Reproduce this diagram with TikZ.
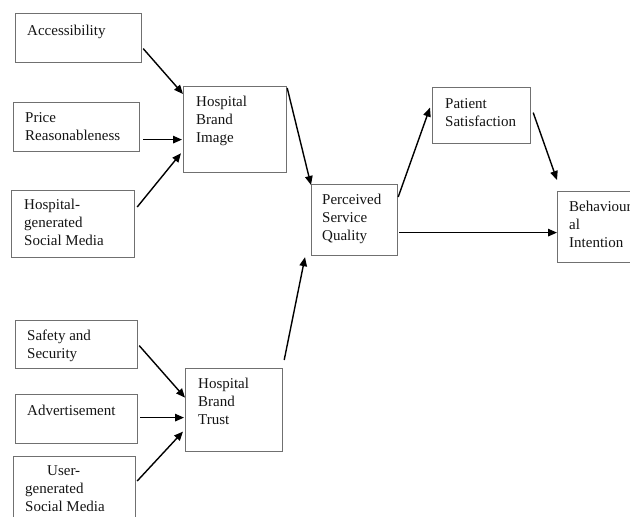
\documentclass[tikz,border=0pt]{standalone}
\usepackage{fontspec}
\setmainfont{Liberation Serif}
\usetikzlibrary{arrows.meta}
\definecolor{boxgray}{HTML}{707070}
\definecolor{txt}{HTML}{141414}
\tikzset{
  box/.style={draw=boxgray, line width=1.2pt, inner sep=0pt, anchor=north west},
  lbl/.style={anchor=north west, inner sep=0pt, align=left, text=txt,
              font=\fontsize{15}{18}\selectfont},
  arr/.style={line width=1.4pt, black, -{Triangle[length=9pt,width=7.5pt]}}
}
\begin{document}
\begin{tikzpicture}[x=1pt, y=-1pt]
\useasboundingbox (0,0) rectangle (630,517);
% boxes
\node[box, minimum width=126pt, minimum height=49pt] (acc)   at (15,13)  {};
\node[box, minimum width=126pt, minimum height=49pt] (price) at (13,102) {};
\node[box, minimum width=123pt, minimum height=67pt] (hgsm)  at (11,190) {};
\node[box, minimum width=103pt, minimum height=86pt] (hbi)   at (183,86) {};
\node[box, minimum width=86pt,  minimum height=71pt] (psq)   at (311,184) {};
\node[box, minimum width=98pt,  minimum height=56pt] (ps)    at (432,87) {};
\node[box, minimum width=93pt,  minimum height=71pt] (bi)    at (557,191) {};
\node[box, minimum width=122pt, minimum height=48pt] (safe)  at (15,320) {};
\node[box, minimum width=122pt, minimum height=49pt] (adv)   at (15,394) {};
\node[box, minimum width=122pt, minimum height=84pt] (ugsm)  at (13,456) {};
\node[box, minimum width=97pt,  minimum height=83pt] (hbt)   at (185,368) {};
% labels
\node[lbl] (accT)   at ([xshift=12pt,yshift=-12pt]acc.north west)   {Accessibility};
\node[lbl] (priceT) at ([xshift=12pt,yshift=-10pt]price.north west) {Price\\Reasonableness};
\node[lbl] (hgsmT)  at ([xshift=13pt,yshift=-9pt]hgsm.north west)   {Hospital-\\generated\\Social Media};
\node[lbl] (hbiT)   at ([xshift=13pt,yshift=-10pt]hbi.north west)   {Hospital\\Brand\\Image};
\node[lbl] (psqT)   at ([xshift=11pt,yshift=-10pt]psq.north west)   {Perceived\\Service\\Quality};
\node[lbl] (psT)    at ([xshift=13pt,yshift=-11pt]ps.north west)    {Patient\\Satisfaction};
\node[lbl] (biT)    at ([xshift=12pt,yshift=-10pt]bi.north west)    {Behaviour\\al\\Intention};
\node[lbl] (safeT)  at ([xshift=12pt,yshift=-10pt]safe.north west)  {Safety and\\Security};
\node[lbl] (advT)   at ([xshift=12pt,yshift=-11pt]adv.north west)   {Advertisement};
\node[lbl] (ugsmT)  at ([xshift=12pt,yshift=-9pt]ugsm.north west)   {\hspace*{22pt}User-\\generated\\Social Media};
\node[lbl] (hbtT)   at ([xshift=13pt,yshift=-10pt]hbt.north west)   {Hospital\\Brand\\Trust};
% arrows
\draw[arr] ([xshift=1pt,yshift=-10.5pt]acc.east) -- ([yshift=-8pt]hbi.north west);
\draw[arr] ([xshift=3pt,yshift=-12.5pt]price.east) -- ([xshift=-1pt,yshift=-10pt]hbi.west);
\draw[arr] ([xshift=2pt,yshift=-17pt]hgsm.north east) -- ([xshift=-2pt,yshift=20pt]hbi.south west);
\draw[arr] ([yshift=-2pt]hbi.north east) -- ([xshift=0pt,yshift=-1pt]psq.north west);
\draw[arr] ([xshift=1pt,yshift=8pt]hbt.north east) -- ([xshift=-6pt,yshift=-1pt]psq.south west);
\draw[arr] ([xshift=1pt,yshift=-1pt]safe.east) -- ([yshift=12.5pt]hbt.west);
\draw[arr] ([xshift=2pt,yshift=1.5pt]adv.east) -- ([xshift=-1pt,yshift=-7.5pt]hbt.west);
\draw[arr] ([xshift=1pt,yshift=-25pt]ugsm.north east) -- ([xshift=-2pt,yshift=-21.5pt]hbt.west);
\draw[arr] ([yshift=-13pt]psq.north east) -- ([xshift=-2pt,yshift=8pt]ps.west);
\draw[arr] ([xshift=2pt,yshift=3pt]ps.east) -- ([yshift=11pt]bi.north west);
\draw[arr] ([xshift=1pt,yshift=-12.5pt]psq.east) -- ([yshift=-5.5pt]bi.west);
\end{tikzpicture}
\end{document}
